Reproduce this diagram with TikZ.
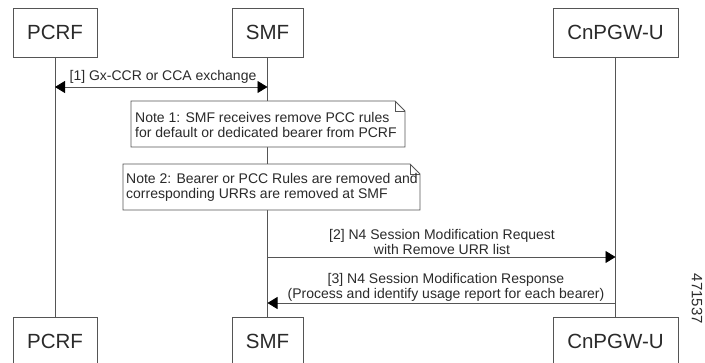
\documentclass[tikz,border=0pt]{standalone}
\usepackage{fontspec}
\setmainfont{Liberation Sans}
\usetikzlibrary{arrows.meta}
\definecolor{ln}{HTML}{555555}
\definecolor{tx}{HTML}{2A2A2A}
\begin{document}
\begin{tikzpicture}[x=1pt,y=-1pt,
  actor/.style={draw=ln,line width=0.9pt,fill=white,text=tx,font=\fontsize{20.5}{24}\selectfont,inner sep=0pt},
  tip/.tip={Triangle[length=10pt,width=12pt,color=black]},
  msg/.style={draw=ln,line width=0.8pt,-tip},
  lbl/.style={text=tx,font=\fontsize{14}{15}\selectfont,align=center,inner sep=0pt},
  notebox/.style={draw=ln,line width=0.8pt,fill=white},
  life/.style={draw=ln,line width=0.8pt}]
\useasboundingbox (0,0) rectangle (705,362);
\begin{scope}
\clip (0,0) rectangle (705,362);
% top actors
\node[actor,minimum width=84pt,minimum height=49pt] (p1) at (55,32.5) {PCRF};
\node[actor,minimum width=71pt,minimum height=49pt] (s1) at (267.5,32.5) {SMF};
\node[actor,minimum width=125pt,minimum height=49pt] (c1) at (615.5,32.5) {CnPGW-U};
% bottom actors
\node[actor,minimum width=84pt,minimum height=49pt] (p2) at (55,341.5) {PCRF};
\node[actor,minimum width=71pt,minimum height=49pt] (s2) at (267.5,341.5) {SMF};
\node[actor,minimum width=125pt,minimum height=49pt] (c2) at (615.5,341.5) {CnPGW-U};
% lifelines
\draw[life] (p1.south) -- (p2.north);
\draw[life] (s1.south) -- (s2.north);
\draw[life] (c1.south) -- (c2.north);
% message 1
\coordinate (m1a) at (p1.south |- 0,87);
\coordinate (m1b) at (s1.south |- 0,87);
\draw[draw=ln,line width=0.8pt,tip-tip] (m1a) -- (m1b);
\node[lbl] (l1) at (163,77) {[1] Gx-CCR or CCA exchange};
% notes
\filldraw[notebox] (131,101) -- (395,101) -- (405,111) -- (405,147) -- (131,147) -- cycle;
\draw[notebox,fill=none] (395,101) -- (395,111) -- (405,111);
\node[lbl,align=left,anchor=west] (n1t) at (135,124.5) {Note 1: SMF receives remove PCC rules\\for default or dedicated bearer from PCRF};
\filldraw[notebox] (123,164) -- (410,164) -- (420,174) -- (420,210) -- (123,210) -- cycle;
\draw[notebox,fill=none] (410,164) -- (410,174) -- (420,174);
\node[lbl,align=left,anchor=west] (n2t) at (126,187.5) {Note 2: Bearer or PCC Rules are removed and\\corresponding URRs are removed at SMF};
% message 2
\coordinate (m2a) at (s1.south |- 0,257);
\coordinate (m2b) at (c1.south |- 0,257);
\draw[msg] (m2a) -- (m2b);
\node[lbl] (l2) at (442,241.5) {[2] N4 Session Modification Request\\with Remove URR list};
% message 3
\coordinate (m3a) at (c1.south |- 0,303);
\coordinate (m3b) at (s1.south |- 0,303);
\draw[msg] (m3a) -- (m3b);
\node[lbl] (l3) at (446,287.5) {[3] N4 Session Modification Response\\(Process and identify usage report for each bearer)};
% side id
\node[text=tx,font=\fontsize{15}{18}\selectfont,rotate=-90,inner sep=0pt] (id) at (697,299) {471537};
\end{scope}
\end{tikzpicture}
\end{document}
